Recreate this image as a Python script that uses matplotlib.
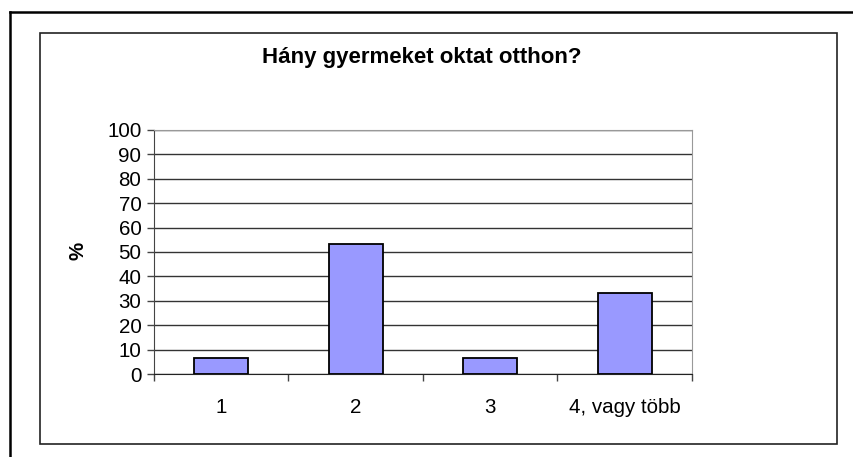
import matplotlib
matplotlib.use("Agg")
import matplotlib.pyplot as plt
from matplotlib.lines import Line2D
from matplotlib.patches import Rectangle

categories = ["1", "2", "3", "4, vagy több"]
percent = [6.7, 53.3, 6.7, 33.3]
yticks = [0, 10, 20, 30, 40, 50, 60, 70, 80, 90, 100]

plt.rcParams['font.family'] = ['Liberation Sans', 'DejaVu Sans']

W, H = 854, 457
fig = plt.figure(figsize=(W / 100, H / 100), dpi=100)

# outer frame: only the top and left edges are inside the picture
fig.add_artist(Line2D([10 / W, 10 / W], [0, 1 - 12 / H], transform=fig.transFigure,
                      color="black", linewidth=1.8))
fig.add_artist(Line2D([10 / W, 1], [1 - 12 / H, 1 - 12 / H], transform=fig.transFigure,
                      color="black", linewidth=1.8))
# chart area frame
fig.add_artist(Rectangle((40 / W, 1 - 444 / H), (837 - 40) / W, (444 - 33) / H,
                         transform=fig.transFigure, fill=False, edgecolor="#222222", linewidth=1.2))

ax = fig.add_axes([154 / W, 1 - 374 / H, (692 - 154) / W, (374 - 130) / H])
x = range(len(categories))
ax.bar(x, percent, width=0.4, color="#9999FF", edgecolor="black", linewidth=1.3, zorder=3)

ax.set_xlim(-0.5, 3.5)
ax.set_ylim(0, 100)
ax.set_yticks(yticks)
ax.yaxis.grid(True, color="#333333", linewidth=1)
ax.set_axisbelow(True)

ax.set_xticks(list(x))
ax.set_xticklabels(categories, fontsize=14.8)
ax.tick_params(axis="x", length=0, pad=17)
ax.set_xticks([-0.5, 0.5, 1.5, 2.5, 3.5], minor=True)
ax.tick_params(axis="x", which="minor", length=5, width=1, color="#444444")
ax.tick_params(axis="y", length=5, width=1, color="#444444", labelsize=14.8, pad=4)

for side in ["top", "right"]:
    ax.spines[side].set_color("#999999")
ax.spines["left"].set_color("#444444")
ax.spines["bottom"].set_color("#222222")

fig.text(78 / W, 1 - 251 / H, "%", rotation=90, fontsize=14.8, fontweight="bold",
         ha="center", va="center")
fig.text(422 / W, 1 - 58 / H, "Hány gyermeket oktat otthon?", fontsize=16,
         fontweight="bold", ha="center", va="center")

fig.savefig("out.png", dpi=100)
